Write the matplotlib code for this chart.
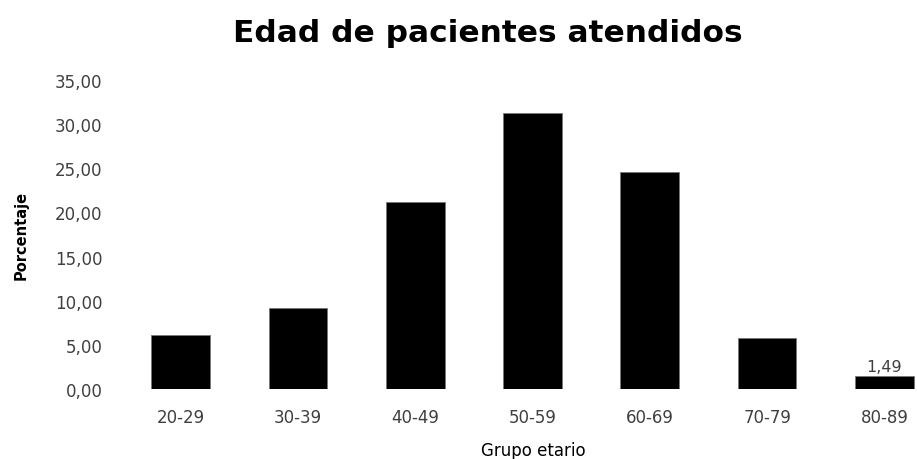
import matplotlib
matplotlib.use("Agg")
import matplotlib.pyplot as plt

groups = ["20-29", "30-39", "40-49", "50-59", "60-69", "70-79", "80-89"]
percent = [6.15, 9.2, 21.2, 31.3, 24.6, 5.75, 1.49]
y_ticks = [0, 5, 10, 15, 20, 25, 30, 35]

plt.rcParams["font.family"] = ["DejaVu Sans"]

fig = plt.figure(figsize=(9.17, 4.6), dpi=100)
ax = fig.add_axes([122 / 917, 70 / 460, (943 - 122) / 917, 309 / 460])

x = range(len(groups))
ax.bar(x, percent, width=0.5, color="black", edgecolor="#777777", linewidth=0.6)
ax.text(6, percent[6] + 0.25, f"{percent[6]:.2f}".replace(".", ","), ha="center",
        va="bottom", fontsize=11.5, color="#404040")

ax.set_xlim(-0.5, len(groups) - 0.5)
ax.set_ylim(0, 35)
ax.set_xticks(list(x))
ax.set_xticklabels(groups)
ax.set_yticks(y_ticks)
ax.set_yticklabels([f"{v:.2f}".replace(".", ",") for v in y_ticks])
ax.tick_params(length=0, labelsize=12, colors="#404040")
ax.tick_params(axis="x", pad=14)
ax.tick_params(axis="y", pad=14)
for s in ax.spines.values():
    s.set_visible(False)

ax.set_ylabel("Porcentaje", fontsize=10.5, fontweight="bold", labelpad=19)
fig.text(533 / 917, 1 - 451 / 460, "Grupo etario", ha="center", va="center",
         fontsize=12, color="black")

fig.text(488 / 917, 1 - 34 / 460, "Edad de pacientes atendidos", ha="center",
         va="center", fontsize=22.5, fontweight="bold")

fig.savefig("out.png", dpi=100, facecolor="white")
